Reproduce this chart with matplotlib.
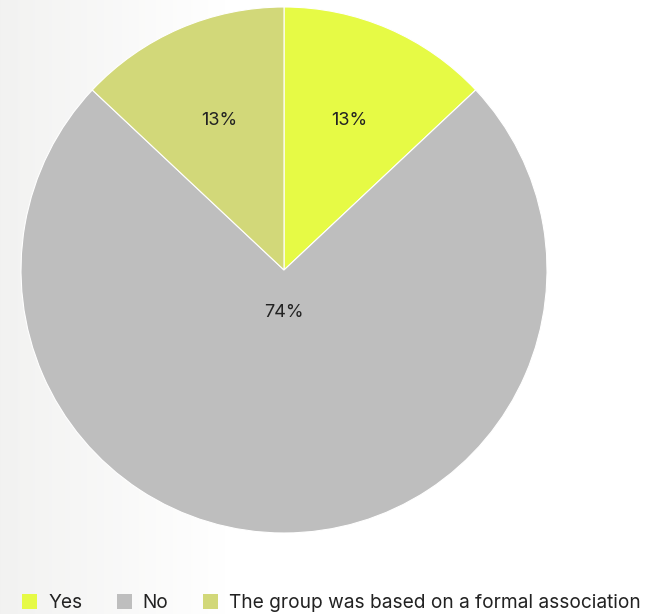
import numpy as np
import matplotlib
matplotlib.use("Agg")
import matplotlib.pyplot as plt
from matplotlib.patches import Patch

categories = ["Yes", "No", "The group was based on a formal association"]
values = [13, 74, 13]
colors = ["#e6fa45", "#bebebe", "#d2d879"]
label_radius = [0.62, 0.16, 0.62]

W, H = 647, 614
fig = plt.figure(figsize=(W / 100, H / 100), dpi=100)

# soft horizontal background gradient, light grey on the left fading to white
bg = fig.add_axes([0, 0, 1, 1], zorder=-10)
x = np.linspace(0, 1, W)
shade = np.clip(x / (225 / W), 0, 1)
r = 0.949 + (1.0 - 0.949) * shade
g = 0.949 + (1.0 - 0.949) * shade
b = 0.945 + (1.0 - 0.945) * shade
img = np.stack([r, g, b], axis=-1)[None, :, :].repeat(2, axis=0)
bg.imshow(img, aspect="auto", extent=[0, 1, 0, 1])
bg.set_axis_off()

cx, cy, rad = 284, 270, 263
ax = fig.add_axes([(cx - rad) / W, (H - cy - rad) / H, 2 * rad / W, 2 * rad / H])
ax.set_facecolor("none")
wedges, _ = ax.pie(values, colors=colors, startangle=90, counterclock=False,
                   wedgeprops=dict(edgecolor="white", linewidth=0.8))
ax.set_xlim(-1, 1)
ax.set_ylim(-1, 1)
ax.set_aspect("equal")

font = ["Inter", "DejaVu Sans"]
for w, v, lr in zip(wedges, values, label_radius):
    mid = np.deg2rad((w.theta1 + w.theta2) / 2)
    ax.text(lr * np.cos(mid), lr * np.sin(mid), f"{v}%", ha="center", va="center",
            fontsize=13, color="#222222", family=font)

handles = [Patch(facecolor=c, edgecolor="none") for c in colors]
fig.legend(handles, categories, loc="center left", bbox_to_anchor=(22 / W, 11 / H),
           ncol=3, frameon=False, borderpad=0, borderaxespad=0,
           handlelength=0.79, handleheight=0.79, handletextpad=0.58,
           columnspacing=1.8, prop=dict(family=font, size=13.75),
           labelcolor="#222222")

fig.savefig("out.png", dpi=100)
